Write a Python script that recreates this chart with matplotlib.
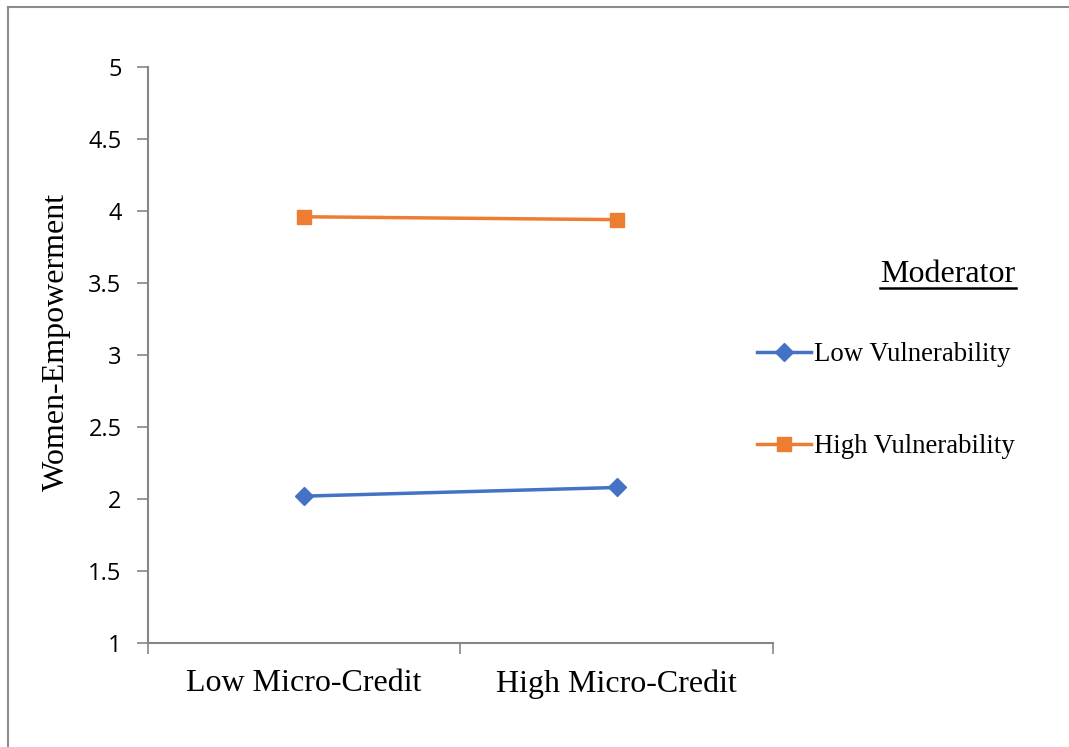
import matplotlib
matplotlib.use("Agg")
import matplotlib.pyplot as plt
from matplotlib.lines import Line2D

categories = ["Low Micro-Credit", "High Micro-Credit"]
low_vuln = [2.02, 2.08]
high_vuln = [3.96, 3.94]
yticks = [1, 1.5, 2, 2.5, 3, 3.5, 4, 4.5, 5]

blue = "#4472C4"
orange = "#ED7D31"
grey = "#868686"
serif = "Liberation Serif"

fig = plt.figure(figsize=(10.69, 7.47), dpi=100)
ax = fig.add_axes([0.1384, 0.1392, 0.7231 - 0.1384, 0.9103 - 0.1392])

x = list(range(len(categories)))
ax.plot(x, low_vuln, color=blue, lw=2.5, marker="D", markersize=9,
        label="Low Vulnerability")
ax.plot(x, high_vuln, color=orange, lw=2.5, marker="s", markersize=10,
        label="High Vulnerability")

ax.set_xlim(-0.5, 1.5)
ax.set_ylim(1, 5)
ax.set_yticks(yticks)
ax.set_yticklabels(["{:g}".format(v) for v in yticks],
                   fontfamily="Open Sans", fontsize=17)
ax.set_xticks(x)
ax.set_xticklabels(categories, fontfamily=serif, fontsize=23)
ax.set_xticks([-0.5, 0.5, 1.5], minor=True)
ax.tick_params(axis="x", which="major", length=0, pad=19)
ax.tick_params(axis="x", which="minor", length=8, width=1.2, color=grey,
               direction="out")
ax.tick_params(axis="y", length=8, width=1.2, color=grey, pad=11)

for side in ["top", "right"]:
    ax.spines[side].set_visible(False)
for side in ["left", "bottom"]:
    ax.spines[side].set_color(grey)
    ax.spines[side].set_linewidth(1.5)

ax.set_ylabel("Women-Empowerment", fontfamily=serif, fontsize=23)
ax.yaxis.set_label_coords(-0.123, 0.523)

leg = ax.legend(loc="upper left", bbox_to_anchor=(0.686, 0.574),
                bbox_transform=fig.transFigure, frameon=False,
                prop={"family": serif, "size": 19.3}, handlelength=2.0,
                handletextpad=0.1, labelspacing=2.5)

# underlined legend heading
title = fig.text(0.950, 0.622, "Moderator", fontfamily=serif, fontsize=23,
                 ha="right", va="baseline")
fig.canvas.draw()
bb = title.get_window_extent().transformed(fig.transFigure.inverted())
fig.add_artist(Line2D([bb.x0, bb.x1], [bb.y0 + 0.002, bb.y0 + 0.002],
                      transform=fig.transFigure, color="black", lw=1.8))

# page border (top and left only)
fig.add_artist(Line2D([0.0075, 1.0], [0.9906, 0.9906],
                      transform=fig.transFigure, color="#8c8c8c", lw=1.5))
fig.add_artist(Line2D([0.0075, 0.0075], [0.0, 0.9906],
                      transform=fig.transFigure, color="#8c8c8c", lw=1.5))

fig.savefig("out.png", dpi=100)
